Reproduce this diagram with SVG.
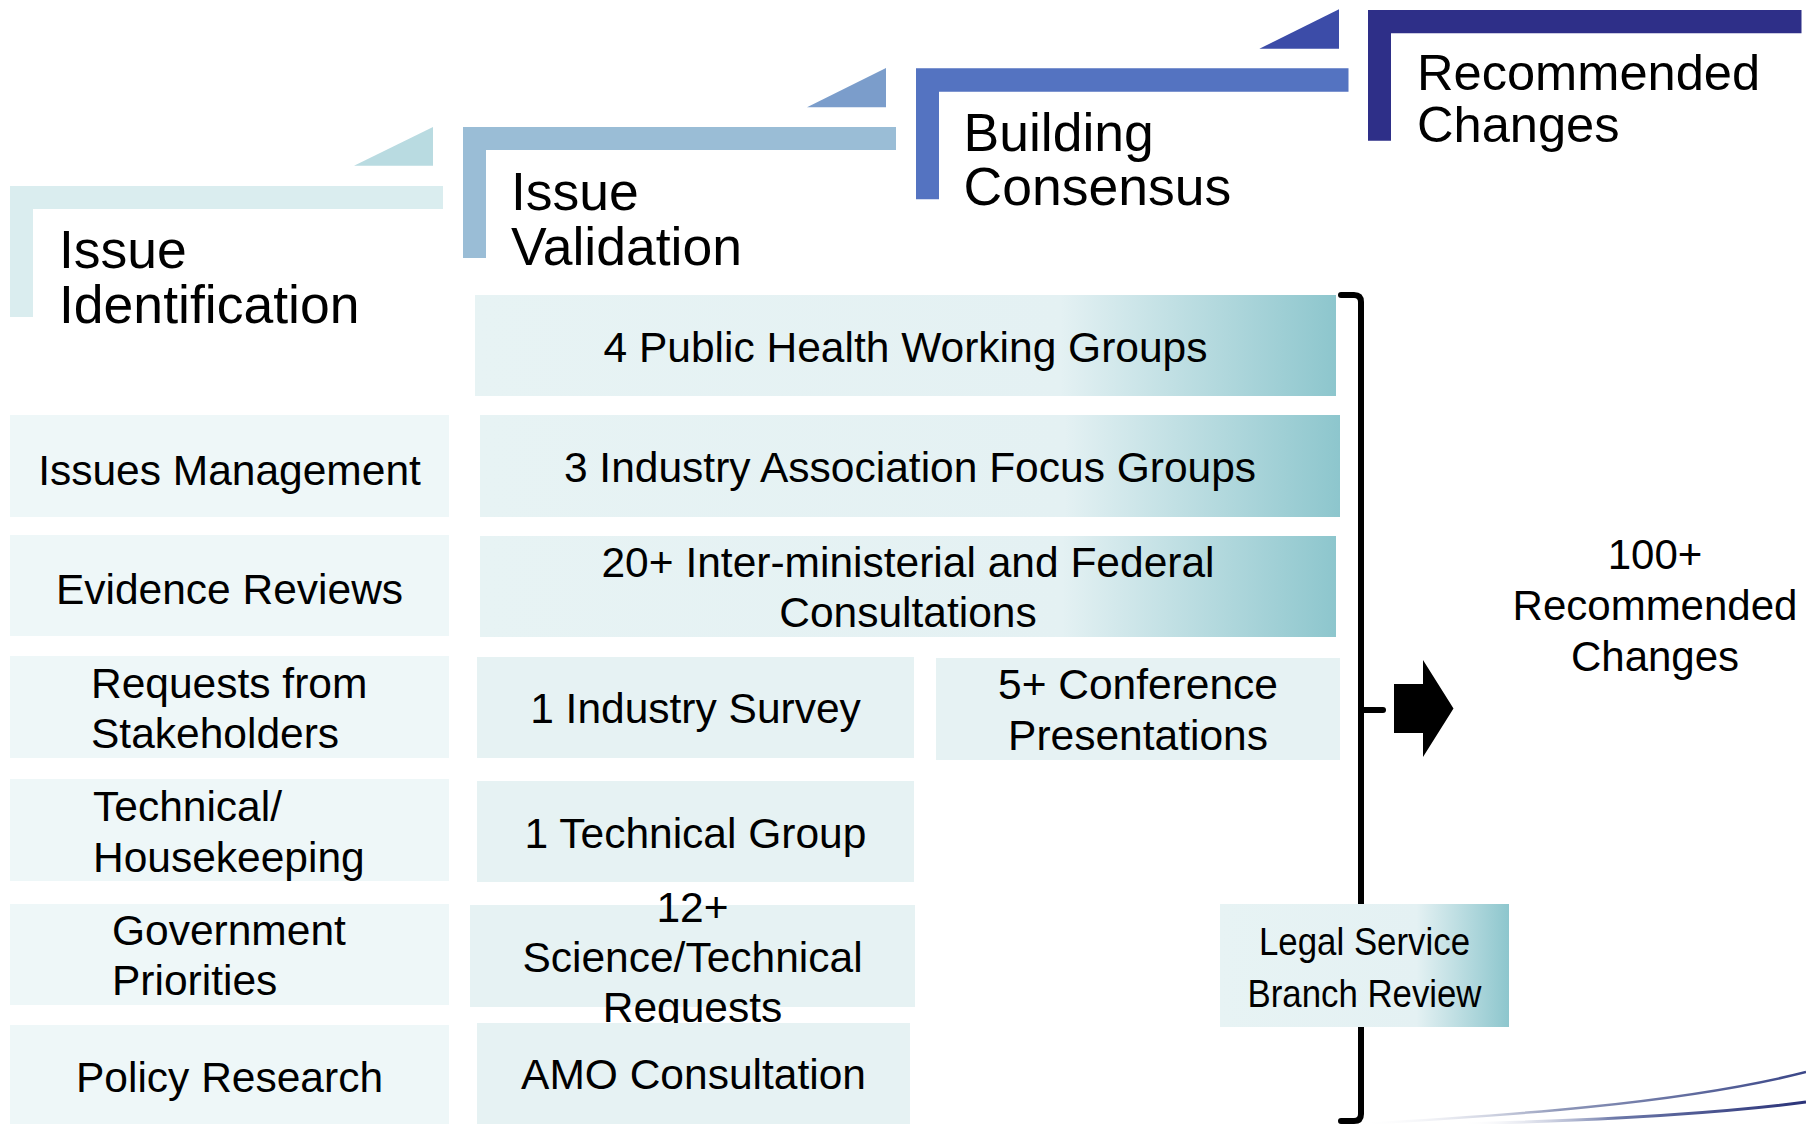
<svg xmlns="http://www.w3.org/2000/svg" width="1806" height="1124" viewBox="0 0 1806 1124">
<defs>
<style>
text{font-family:"Liberation Sans",Arial,Helvetica,sans-serif;fill:#000}
.hd{font-size:53.5px}
.hd4{font-size:50.6px}
.bx{font-size:42.5px}
.c{text-anchor:middle}
.lt{fill:#EEF7F8}
.md{fill:#E6F2F3}
.gr{fill:url(#tealGrad)}
.br{fill:none;stroke:#000;stroke-width:6;stroke-linecap:round;stroke-linejoin:round}
</style>
<linearGradient id="tealGrad" x1="0" y1="0" x2="1" y2="0">
<stop offset="0" stop-color="#E7F3F4"/>
<stop offset="0.68" stop-color="#E4F1F3"/>
<stop offset="1" stop-color="#8DC6CD"/>
</linearGradient>
<linearGradient id="swoosh1" x1="1360" y1="0" x2="1806" y2="0" gradientUnits="userSpaceOnUse">
<stop offset="0" stop-color="#FFFFFF" stop-opacity="0"/>
<stop offset="0.45" stop-color="#8D96B8"/>
<stop offset="1" stop-color="#3A4688"/>
</linearGradient>
<linearGradient id="swoosh2" x1="1460" y1="0" x2="1806" y2="0" gradientUnits="userSpaceOnUse">
<stop offset="0" stop-color="#FFFFFF" stop-opacity="0"/>
<stop offset="0.45" stop-color="#6C78A8"/>
<stop offset="1" stop-color="#2A3278"/>
</linearGradient>
</defs>
<rect width="1806" height="1124" fill="#FFFFFF"/>

<!-- decorative swooshes -->
<g id="swooshes" fill="none">
<path d="M1360 1124 C1500 1116 1680 1104 1806 1072" stroke="url(#swoosh1)" stroke-width="2.5"/>
<path d="M1460 1124 C1610 1120 1730 1112 1806 1102" stroke="url(#swoosh2)" stroke-width="3"/>
</g>

<!-- stage headers -->
<g id="stage-issue-identification">
<polygon points="354,165.7 433,165.7 433,127" fill="#B9DBE1"/>
<path d="M10 186 H443 V209 H33 V317 H10 Z" fill="#DAEDEF"/>
<text class="hd" x="59" y="268">Issue</text>
<text class="hd" x="59" y="323">Identification</text>
</g>
<g id="stage-issue-validation">
<polygon points="807,107.3 886,107.3 886,68" fill="#7B9DCB"/>
<path d="M463 127 H896 V150 H486 V258 H463 Z" fill="#9ABDD6"/>
<text class="hd" x="511" y="209.5">Issue</text>
<text class="hd" x="511" y="265">Validation</text>
</g>
<g id="stage-building-consensus">
<polygon points="1259.4,48.7 1339,48.7 1339,9.3" fill="#3C4CA8"/>
<path d="M916 68.3 H1348.5 V91.7 H939 V199.3 H916 Z" fill="#5473C1"/>
<text class="hd" x="963.5" y="150.7">Building</text>
<text class="hd" x="963.5" y="204.5">Consensus</text>
</g>
<g id="stage-recommended-changes">
<path d="M1368 10 H1801.5 V33.3 H1391 V140.7 H1368 Z" fill="#2E2F88"/>
<text class="hd4" x="1417" y="89.5">Recommended</text>
<text class="hd4" x="1417" y="141.5">Changes</text>
</g>

<!-- connectors: bracket and arrow -->
<g id="connectors">
<path class="br" d="M1341 295 H1354 Q1361 295 1361 302 V1114 Q1361 1121 1354 1121 H1341"/>
<path class="br" d="M1361 710 H1383"/>
<polygon points="1394,684 1423,684 1423,660 1453.5,708.5 1423,757 1423,733 1394,733" fill="#000"/>
</g>

<!-- left column: issue identification sources -->
<g id="issues-management">
<rect class="lt" x="10" y="415" width="439" height="102"/>
<text class="bx c" x="229.5" y="485">Issues Management</text>
</g>
<g id="evidence-reviews">
<rect class="lt" x="10" y="535" width="439" height="101"/>
<text class="bx c" x="229.5" y="604">Evidence Reviews</text>
</g>
<g id="requests-from-stakeholders">
<rect class="lt" x="10" y="656" width="439" height="102"/>
<text class="bx" x="91" y="698">Requests from</text>
<text class="bx" x="91" y="748">Stakeholders</text>
</g>
<g id="technical-housekeeping">
<rect class="lt" x="10" y="779" width="439" height="102"/>
<text class="bx" x="93" y="821">Technical/</text>
<text class="bx" x="93" y="871.5">Housekeeping</text>
</g>
<g id="government-priorities">
<rect class="lt" x="10" y="904" width="439" height="101"/>
<text class="bx" x="112" y="945">Government</text>
<text class="bx" x="112" y="995">Priorities</text>
</g>
<g id="policy-research">
<rect class="lt" x="10" y="1025" width="439" height="100"/>
<text class="bx c" x="229.5" y="1092">Policy Research</text>
</g>

<!-- middle: validation / consensus activities -->
<g id="public-health-working-groups">
<rect class="gr" x="475" y="295" width="861" height="101"/>
<text class="bx c" x="905.5" y="362">4 Public Health Working Groups</text>
</g>
<g id="industry-association-focus-groups">
<rect class="gr" x="480" y="415" width="860" height="102"/>
<text class="bx c" x="910" y="482">3 Industry Association Focus Groups</text>
</g>
<g id="inter-ministerial-federal-consultations">
<rect class="gr" x="480" y="536" width="856" height="101"/>
<text class="bx c" x="908" y="577">20+ Inter-ministerial and Federal</text>
<text class="bx c" x="908" y="627">Consultations</text>
</g>
<g id="industry-survey">
<rect class="md" x="477" y="657" width="437" height="101"/>
<text class="bx c" x="695.5" y="723">1 Industry Survey</text>
</g>
<g id="conference-presentations">
<rect class="md" x="936" y="658" width="404" height="102"/>
<text class="bx c" x="1138" y="698.5">5+ Conference</text>
<text class="bx c" x="1138" y="750">Presentations</text>
</g>
<g id="technical-group">
<rect class="md" x="477" y="781" width="437" height="101"/>
<text class="bx c" x="695.5" y="847.5">1 Technical Group</text>
</g>
<g id="science-technical-requests">
<rect class="md" x="470" y="905" width="445" height="102"/>
<text class="bx c" x="692.5" y="922">12+</text>
<text class="bx c" x="692.5" y="972">Science/Technical</text>
<text class="bx c" x="692.5" y="1022">Requests</text>
</g>
<g id="amo-consultation">
<rect class="md" x="477" y="1023" width="433" height="102"/>
<text class="bx c" x="693.5" y="1088.5">AMO Consultation</text>
</g>
<g id="legal-service-branch-review">
<rect class="gr" x="1220" y="904" width="289" height="123"/>
<text class="c" x="1364.5" y="955" font-size="39" textLength="211" lengthAdjust="spacingAndGlyphs">Legal Service</text>
<text class="c" x="1364.5" y="1006.5" font-size="39" textLength="234" lengthAdjust="spacingAndGlyphs">Branch Review</text>
</g>

<!-- outcome -->
<g id="recommended-changes-outcome">
<text class="c" x="1655" y="569" font-size="42">100+</text>
<text class="c" x="1655" y="620" font-size="42">Recommended</text>
<text class="c" x="1655" y="671" font-size="42">Changes</text>
</g>
</svg>
